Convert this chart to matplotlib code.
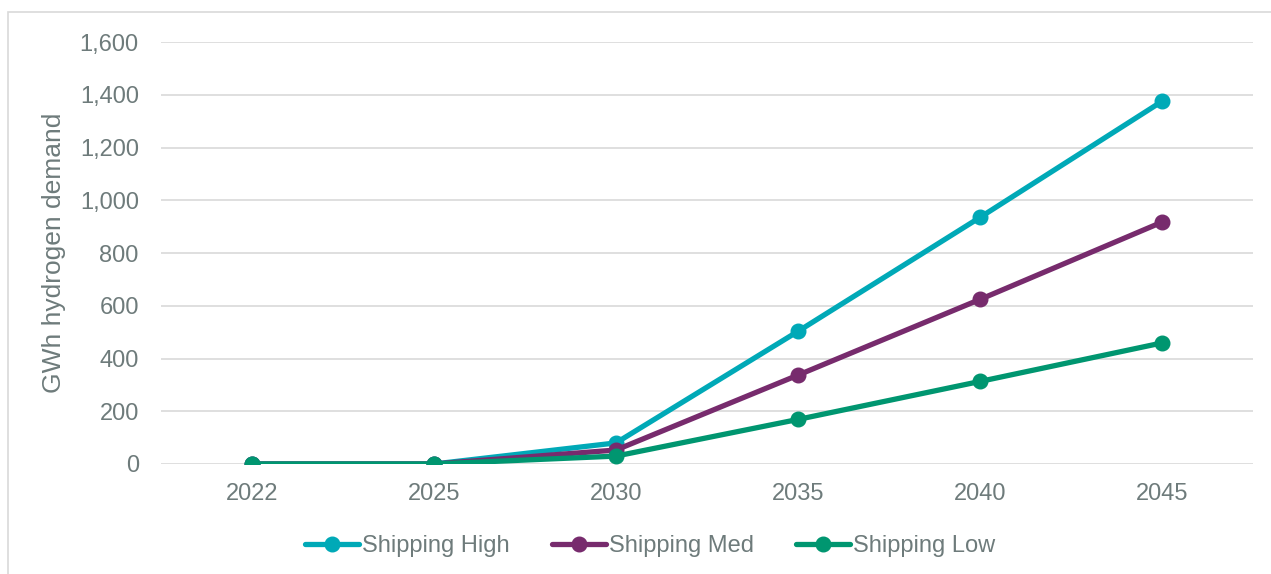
"""
Shipping hydrogen demand scenarios.
"""

import matplotlib.pyplot as plt
from matplotlib.patches import Rectangle

years = ["2022", "2025", "2030", "2035", "2040", "2045"]

shipping_high = [0, 0, 80, 503, 935, 1375]
shipping_med = [0, 0, 53, 337, 624, 917]
shipping_low = [0, 0, 30, 169, 313, 459]

series = [
    ("Shipping High", shipping_high, "#00A9B7"),
    ("Shipping Med", shipping_med, "#772B6D"),
    ("Shipping Low", shipping_low, "#009670"),
]

text_grey = "#6E7B7B"

plt.rcParams["font.family"] = ["Liberation Sans", "DejaVu Sans"]

fig = plt.figure(figsize=(12.71, 5.74), dpi=100)

# outer frame
fig.patches.append(
    Rectangle(
        (8 / 1271, -0.01), 1.0, (574 - 12) / 574 + 0.01,
        transform=fig.transFigure, fill=False,
        edgecolor="#D9D9D9", linewidth=1.2
    )
)

ax = fig.add_axes([161 / 1271, 1 - 464 / 574, 1092 / 1271, 422 / 574])

x = list(range(len(years)))

for name, vals, col in series:
    ax.plot(
        x, vals,
        color=col,
        linewidth=3.8,
        marker="o",
        markersize=10.5,
        label=name,
        solid_capstyle="round",
    )

ax.set_xlim(-0.5, len(years) - 0.5)
ax.set_ylim(0, 1600)
ax.set_yticks(range(0, 1601, 200))
ax.set_yticklabels([f"{v:,}" for v in range(0, 1601, 200)])
ax.set_xticks(x)
ax.set_xticklabels(years)

ax.grid(axis="y", color="#D9D9D9", linewidth=1.2)
ax.set_axisbelow(True)
for s in ax.spines.values():
    s.set_visible(False)
ax.tick_params(length=0, labelsize=17, labelcolor=text_grey)
ax.tick_params(axis="y", pad=16)
ax.tick_params(axis="x", pad=14)

ax.set_ylabel("GWh hydrogen demand", fontsize=19, color=text_grey, labelpad=10)

ax.legend(
    loc="center",
    bbox_to_anchor=(0.448, -0.194),
    ncol=3,
    frameon=False,
    fontsize=17,
    labelcolor=text_grey,
    handlelength=2.3,
    handletextpad=0.12,
    columnspacing=1.78,
)

plt.savefig("out.png", dpi=100)
